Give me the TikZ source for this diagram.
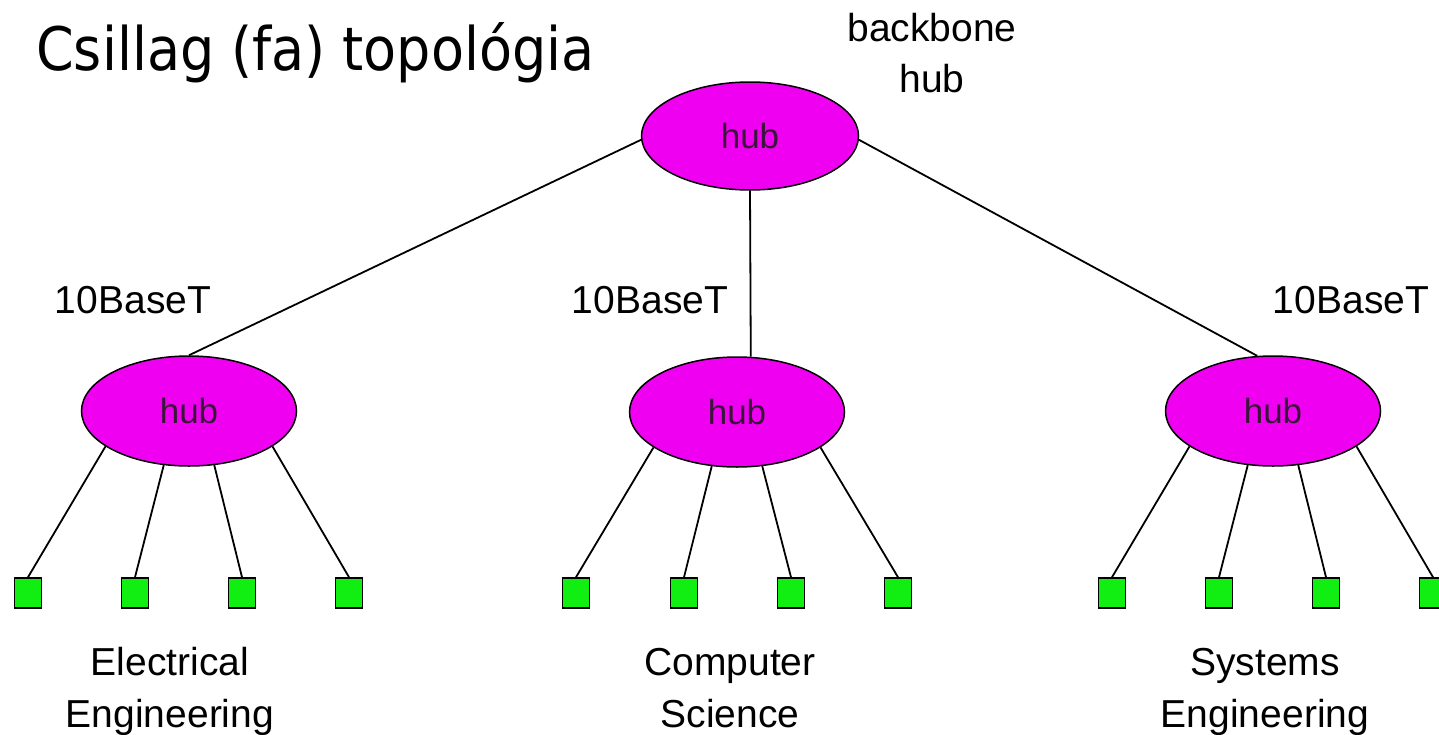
\documentclass[tikz,border=0pt]{standalone}
\usepackage{fontspec}
\setmainfont{Liberation Sans}
\newfontfamily\titlefont{DejaVu Sans Condensed}
\usetikzlibrary{shapes.geometric}
\definecolor{hubfill}{HTML}{F000F0}
\definecolor{hubtext}{HTML}{3A143A}
\definecolor{pcfill}{HTML}{11EE11}
\tikzset{
  hubnode/.style={ellipse, draw=black, line width=1.5pt, fill=hubfill, inner sep=0pt,
    minimum width=215pt, minimum height=110pt, text=hubtext, font=\fontsize{35}{40}\selectfont},
  pcnode/.style={rectangle, draw=black, line width=1.6pt, fill=pcfill, inner sep=0pt,
    minimum width=27pt, minimum height=30pt},
  lbl/.style={inner sep=0pt, align=center, anchor=base, text=black, font=\fontsize{39}{51}\selectfont},
  wire/.style={draw=black, line width=1.8pt}
}
\begin{document}
\begin{tikzpicture}[x=1pt,y=-1pt]
\useasboundingbox (0,0) rectangle (1439,734);
% title
\node[inner sep=0pt, anchor=base west, font=\titlefont\fontsize{60}{70}\selectfont] (title) at (36,70) {Csillag (fa) topológia};
% hubs
\node[hubnode, minimum width=217pt, minimum height=108pt] (top) at (750,136) {hub};
\node[hubnode] (h1) at (189,411) {hub};
\node[hubnode] (h2) at (737,412) {hub};
\node[hubnode] (h3) at (1273,411) {hub};
% labels (base = baseline of the last line)
\node[lbl] (bb) at (932,92) {backbone\\hub};
\node[lbl] (t1) at (133,313) {10BaseT};
\node[lbl] (t2) at (650,313) {10BaseT};
\node[lbl] (t3) at (1351,313) {10BaseT};
\node[lbl, font=\fontsize{39}{52}\selectfont] (d1) at (170,727) {Electrical\\Engineering};
\node[lbl, font=\fontsize{39}{52}\selectfont] (d2) at (730,727) {Computer\\Science};
\node[lbl, font=\fontsize{39}{52}\selectfont] (d3) at (1265,727) {Systems\\Engineering};
% backbone wires
\draw[wire] (top.182) -- (h1.north);
\draw[wire] (top.south) -- (h2.76);
\draw[wire] (top.358) -- (h3.106);
% hosts
\foreach \h/\xa/\xb/\xc/\xd in {h1/28/135/242/349, h2/576/684/791/898, h3/1112/1219/1326/1433}{
  \node[pcnode] (\h p1) at (\xa,593) {};
  \node[pcnode] (\h p2) at (\xb,593) {};
  \node[pcnode] (\h p3) at (\xc,593) {};
  \node[pcnode] (\h p4) at (\xd,593) {};
  \draw[wire] (\h.203) -- (\h p1.north);
  \draw[wire] (\h.245) -- (\h p2.north);
  \draw[wire] (\h.295) -- (\h p3.north);
  \draw[wire] (\h.337) -- (\h p4.north);
}
\end{tikzpicture}
\end{document}
